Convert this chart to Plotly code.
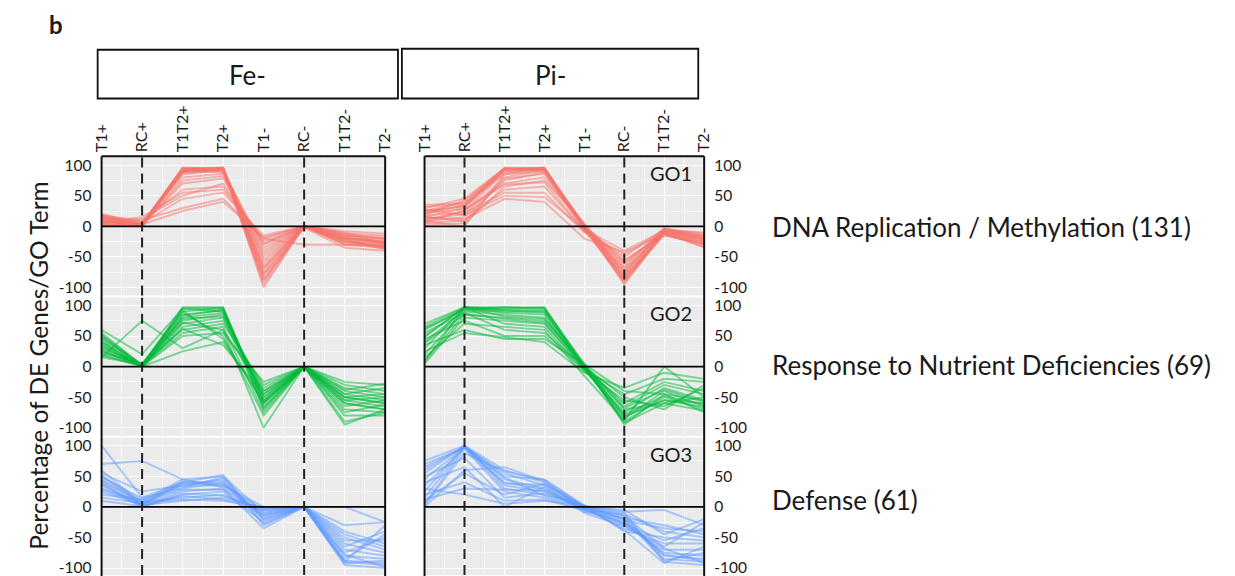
import plotly.graph_objects as go

W, H = 1235, 576

categories = ["T1+", "RC+", "T1T2+", "T2+", "T1-", "RC-", "T1T2-", "T2-"]
conditions = ["Fe-", "Pi-"]
go_terms = ["GO1", "GO2", "GO3"]
go_names = ["DNA Replication / Methylation (131)",
            "Response to Nutrient Deficiencies (69)",
            "Defense (61)"]
y_ticks = [-100, -50, 0, 50, 100]
y_minor = [-75, -25, 25, 75]
y_title = "Percentage of DE Genes/GO Term"
panel_letter = "b"

# ---- profiles (percent per condition) ----
fe_go1 = [
    [15, 2, 92, 95, -95, 0, -20, -25],
    [10, 0, 90, 94, -85, 0, -25, -30],
    [5, 3, 95, 95, -75, 0, -15, -20],
    [20, 5, 88, 93, -65, 0, -30, -35],
    [12, 1, 93, 96, -55, 0, -18, -28],
    [8, 4, 85, 92, -45, 0, -22, -38],
    [18, 2, 91, 90, -35, 0, -12, -15],
    [3, 0, 94, 95, -100, 0, -28, -32],
    [14, 3, 89, 94, -80, -2, -35, -40],
    [6, 1, 87, 91, -60, 0, -10, -22],
    [16, 5, 92, 88, -70, 0, -26, -24],
    [9, 2, 80, 86, -50, 0, -20, -35],
    [11, 0, 75, 82, -40, 0, -15, -18],
    [4, 3, 70, 78, -30, 0, -30, -30],
    [13, 8, 60, 65, -25, 0, -18, -26],
    [7, 15, 55, 60, -20, -30, -30, -33],
    [2, 5, 45, 55, -15, 0, -8, -12],
    [17, 10, 30, 45, -20, 0, -22, -20],
    [10, 3, 25, 40, -18, 0, -12, -28],
    [5, 12, 50, 70, -28, 0, -25, -36],
    [15, 2, 95, 92, -90, 0, -20, -27],
    [8, 1, 93, 95, -68, 0, -17, -30],
    [19, 4, 96, 94, -78, 0, -23, -33],
    [1, 2, 90, 96, -88, 0, -14, -26],
]
pi_go1 = [
    [30, 45, 95, 95, 0, -95, -10, -25],
    [25, 40, 93, 95, -3, -90, -8, -20],
    [20, 35, 90, 94, 2, -85, -5, -15],
    [15, 30, 92, 96, -5, -80, -12, -30],
    [10, 25, 88, 93, 0, -75, -6, -10],
    [35, 38, 85, 90, -2, -70, -10, -35],
    [12, 20, 80, 92, 3, -65, -3, -18],
    [8, 15, 75, 88, -6, -60, -8, -22],
    [22, 28, 70, 80, 0, -55, -15, -28],
    [5, 10, 60, 65, -8, -50, -4, -12],
    [18, 22, 55, 55, -10, -45, -10, -25],
    [28, 18, 50, 48, -5, -40, -7, -20],
    [14, 12, 45, 40, -20, -42, -12, -30],
    [3, 5, 65, 75, 5, -88, -9, -16],
    [20, 42, 94, 95, -1, -92, -11, -27],
    [26, 32, 91, 95, 1, -78, -6, -14],
    [9, 0, 85, 95, -4, -82, -13, -33],
    [16, 8, 78, 86, -2, -68, -5, -19],
    [32, 36, 95, 90, 0, -58, -9, -24],
    [6, 26, 68, 72, -7, -86, -14, -29],
    [24, 33, 96, 94, -1, -74, -7, -21],
]
fe_go2 = [
    [15, 75, 30, 60, -40, 0, -50, -60],
    [60, 20, 95, 90, -50, 0, -60, -70],
    [55, 2, 97, 97, -60, 0, -45, -55],
    [50, 0, 95, 95, -55, 0, -50, -60],
    [45, 3, 90, 96, -70, 0, -55, -65],
    [40, 1, 85, 92, -65, 0, -60, -70],
    [35, 0, 80, 88, -50, 0, -40, -50],
    [30, 4, 75, 85, -45, 0, -35, -45],
    [25, 2, 70, 80, -40, 0, -70, -75],
    [20, 0, 65, 75, -35, 0, -30, -40],
    [15, 3, 60, 70, -30, 0, -25, -30],
    [28, 1, 55, 65, -75, 0, -80, -80],
    [38, 0, 50, 55, -25, 0, -45, -35],
    [48, 2, 72, 60, -100, 0, -95, -70],
    [22, 5, 88, 50, -80, 0, -90, -75],
    [33, 1, 92, 45, -60, 0, -65, -55],
    [42, 0, 25, 40, -55, 0, -50, -45],
    [18, 2, 62, 35, -45, 0, -38, -28],
    [52, 3, 78, 82, -68, 0, -75, -62],
    [26, 0, 83, 93, -58, 0, -55, -50],
]
pi_go2 = [
    [70, 97, 97, 95, 5, -95, -45, -75],
    [60, 95, 95, 97, 0, -90, -50, -70],
    [50, 97, 93, 92, -3, -85, -40, -65],
    [40, 92, 90, 90, 2, -80, -55, -60],
    [30, 97, 88, 85, -5, -75, -35, -55],
    [20, 90, 85, 80, 0, -70, -60, -50],
    [10, 85, 80, 75, 3, -65, -30, -45],
    [5, 80, 75, 70, -2, -60, -25, -40],
    [65, 97, 70, 65, -8, -55, -65, -35],
    [55, 88, 60, 55, 0, -50, -70, -30],
    [45, 75, 50, 50, -5, -45, -20, -25],
    [35, 60, 45, 45, 4, -40, -45, -55],
    [25, 55, 48, 40, -10, -35, -10, -20],
    [15, 70, 65, 60, -15, -88, 0, -50],
    [8, 97, 92, 88, 0, -92, -60, -72],
    [62, 93, 97, 96, -2, -78, -48, -62],
    [48, 97, 82, 78, 1, -68, -38, -58],
    [38, 86, 78, 72, -4, -82, -55, -66],
]
fe_go3 = [
    [100, 15, 40, 35, -5, 0, -90, -95],
    [70, 75, 45, 50, -10, 0, -95, -100],
    [55, 25, 35, 45, -20, 0, -80, -85],
    [50, 10, 30, 40, -15, 0, -70, -80],
    [45, 5, 40, 52, -30, 0, -60, -75],
    [40, 2, 25, 30, -35, 0, -50, -70],
    [35, 0, 20, 25, -25, 0, -45, -65],
    [30, 8, 15, 20, -8, 0, -40, -60],
    [25, 3, 10, 15, -2, 0, -55, -55],
    [20, 12, 35, 35, 0, 0, -75, -50],
    [15, 6, 28, 28, -12, 0, -85, -45],
    [10, 1, 18, 12, -5, 0, -65, -40],
    [60, 4, 42, 38, -18, 0, -90, -30],
    [48, 14, 32, 48, -22, 0, -30, -25],
    [38, 0, 22, 18, -3, 0, 0, -25],
    [28, 7, 12, 10, 0, 0, -92, -88],
    [52, 3, 38, 42, -28, 0, -88, -92],
    [42, 9, 45, 32, -14, 0, -78, -98],
]
pi_go3 = [
    [75, 100, 60, 40, 0, -10, -90, -95],
    [65, 98, 55, 35, -3, -15, -85, -90],
    [55, 100, 50, 45, 2, -20, -80, -85],
    [45, 98, 45, 30, -5, -25, -75, -80],
    [35, 96, 40, 28, 0, -30, -70, -70],
    [25, 100, 35, 25, -2, -35, -60, -60],
    [15, 98, 30, 20, 3, -40, -50, -55],
    [5, 95, 25, 15, -4, -12, -40, -50],
    [0, 60, 65, 42, -8, -18, -30, -45],
    [10, 55, 20, 38, 0, -22, -35, -40],
    [20, 40, 10, 12, -6, -28, -55, -35],
    [30, 20, 5, 10, 2, -8, -5, -30],
    [40, 65, 0, 33, -10, -32, -65, -25],
    [50, 80, 15, 22, 0, -5, -45, -20],
    [60, 99, 48, 18, -1, -38, -92, -65],
    [70, 97, 38, 36, 1, -20, -88, -75],
    [12, 30, 28, 26, -3, -26, -78, -88],
    [3, 88, 58, 44, 0, -14, -68, -92],
]

panels = [[fe_go1, pi_go1], [fe_go2, pi_go2], [fe_go3, pi_go3]]
colors = ["rgba(248,118,109,0.5)", "rgba(0,186,56,0.5)", "rgba(97,156,255,0.5)"]

FONT = "Lato, 'Open Sans', sans-serif"
TXT = "#1a1a1a"

def px_x(p):
    return p / W

def px_y(p):
    return 1 - p / H

col_px = [(92, 380), (420, 704)]
row_px = [(156, 295), (297, 436), (438, 576)]
SCALE = 139 / 226.0  # px per unit
Y_TOP = 113

fig = go.Figure()
layout = dict(
    width=W, height=H, autosize=False,
    margin=dict(l=0, r=0, t=0, b=0),
    paper_bgcolor="white", plot_bgcolor="#EBEBEB",
    showlegend=False,
    font=dict(family=FONT, color=TXT),
)
shapes = []
annotations = []
xs = list(range(len(categories)))

for r in range(3):
    for c in range(2):
        idx = r * 2 + c + 1
        xa = "x" if idx == 1 else f"x{idx}"
        ya = "y" if idx == 1 else f"y{idx}"
        for prof in panels[r][c]:
            fig.add_trace(go.Scatter(
                x=xs, y=prof, mode="lines", xaxis=xa, yaxis=ya,
                line=dict(color=colors[r], width=1.9),
                hoverinfo="skip", showlegend=False,
            ))
        top, bot = row_px[r]
        ybottom = Y_TOP - (bot - top) / SCALE
        layout["xaxis" if idx == 1 else f"xaxis{idx}"] = dict(
            domain=[px_x(col_px[c][0]), px_x(col_px[c][1])],
            anchor=ya, range=[0, 7],
            tickvals=xs, ticktext=categories,
            showticklabels=(r == 0), side="top", tickangle=-90,
            ticks="", ticklabelstandoff=4,
            tickfont=dict(size=16, family=FONT, color=TXT),
            showgrid=True, gridcolor="white", gridwidth=1.1,
            minor=dict(tickvals=[i + 0.5 for i in range(7)], showgrid=True,
                       gridcolor="rgba(255,255,255,0.7)", gridwidth=0.6),
            zeroline=False, showline=False, fixedrange=True,
        )
        layout["yaxis" if idx == 1 else f"yaxis{idx}"] = dict(
            domain=[px_y(bot), px_y(top)],
            anchor=xa, range=[ybottom, Y_TOP],
            tickvals=y_ticks, ticktext=[str(v) for v in y_ticks],
            side="left" if c == 0 else "right",
            ticks="", ticklabelstandoff=9, ticklabeloverflow="allow",
            tickfont=dict(size=15.5, family=FONT, color=TXT),
            showgrid=True, gridcolor="white", gridwidth=1.1,
            minor=dict(tickvals=y_minor, showgrid=True,
                       gridcolor="rgba(255,255,255,0.7)", gridwidth=0.6),
            zeroline=False, showline=False, fixedrange=True,
        )
        # zero line
        shapes.append(dict(type="line", xref=f"{xa} domain", yref=ya,
                           x0=0, x1=1, y0=0, y1=0, layer="above",
                           line=dict(color="black", width=1.8)))
        # dashed reference lines at RC+ and RC-
        for cat in ("RC+", "RC-"):
            xv = categories.index(cat)
            shapes.append(dict(type="line", xref=xa, yref=f"{ya} domain",
                               x0=xv, x1=xv, y0=0, y1=1, layer="above",
                               line=dict(color="#222", width=2, dash="10px,6px")))
        if c == 1:
            annotations.append(dict(
                text=go_terms[r], xref="paper", yref="paper",
                x=px_x(670), y=px_y(top + 16), xanchor="center", yanchor="middle",
                showarrow=False, font=dict(size=20, family=FONT, color=TXT)))
    # right-side GO names
    annotations.append(dict(
        text=go_names[r], xref="paper", yref="paper",
        x=px_x(771), y=px_y([226, 365, 501][r]), xanchor="left", yanchor="middle",
        showarrow=False, font=dict(size=26, family=FONT, color=TXT)))

# column borders
for (x0, x1) in col_px:
    for (a, b, cc, d) in [(x0, 155, x0, 590), (x1, 155, x1, 590), (x0, 155, x1, 155)]:
        shapes.append(dict(type="line", xref="paper", yref="paper",
                           x0=px_x(a), y0=px_y(b), x1=px_x(cc), y1=px_y(d),
                           layer="above", line=dict(color="#111", width=2)))

# strip boxes
strips = [(88, 393, 48, 97), (397, 698, 47, 97)]
for (x0, x1, y0, y1), lab in zip(strips, conditions):
    shapes.append(dict(type="rect", xref="paper", yref="paper",
                       x0=px_x(x0), x1=px_x(x1), y0=px_y(y1), y1=px_y(y0),
                       line=dict(color="#111", width=1.8), fillcolor="white"))
    annotations.append(dict(
        text=lab, xref="paper", yref="paper",
        x=px_x((x0 + x1) / 2), y=px_y((y0 + y1) / 2 + 1), xanchor="center", yanchor="middle",
        showarrow=False, font=dict(size=26, family=FONT, color=TXT)))

# y-axis title
annotations.append(dict(
    text=y_title, xref="paper", yref="paper", x=px_x(28), y=px_y(366),
    xanchor="center", yanchor="middle", textangle=-90, showarrow=False,
    font=dict(size=24.5, family=FONT, color=TXT)))

# panel letter
annotations.append(dict(
    text=f"<b>{panel_letter}</b>", xref="paper", yref="paper", x=px_x(46), y=px_y(23),
    xanchor="center", yanchor="middle", showarrow=False,
    font=dict(size=24, family=FONT, color=TXT)))

layout["shapes"] = shapes
layout["annotations"] = annotations
fig.update_layout(**layout)
fig.write_html("out.html")
